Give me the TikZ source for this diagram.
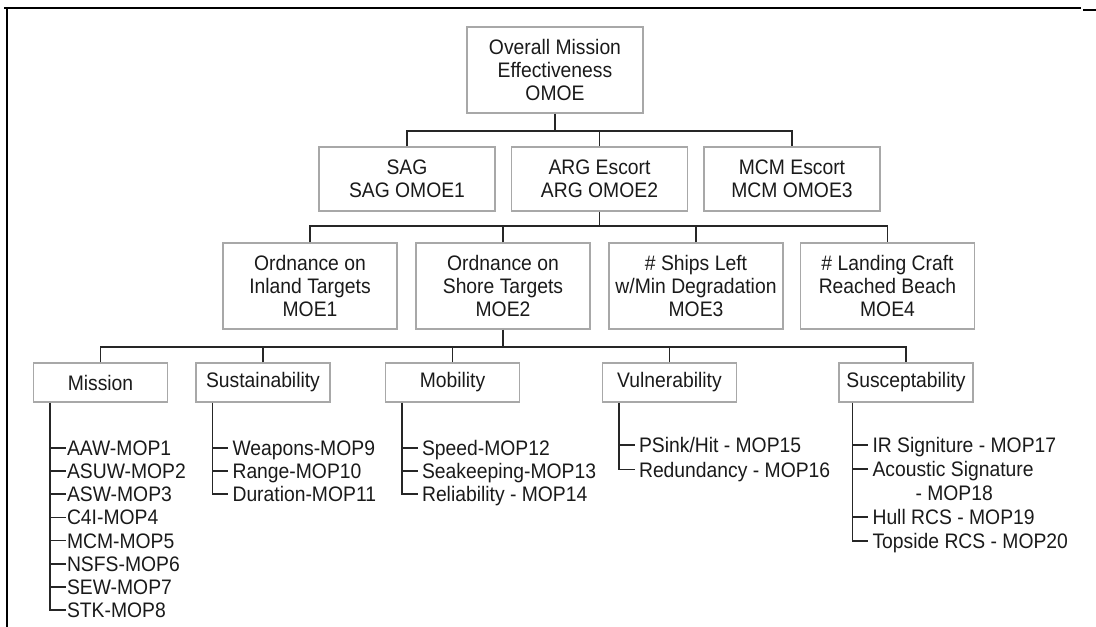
\documentclass[tikz,border=0pt]{standalone}
\usepackage{fontspec}
\setmainfont{Liberation Sans}[FakeStretch=0.92]
\usetikzlibrary{calc}
\definecolor{boxline}{HTML}{A8A8A8}
\definecolor{wire}{HTML}{262626}
\definecolor{ink}{HTML}{1A1A1A}
\begin{document}
\begin{tikzpicture}[x=1pt,y=-1pt,
  every node/.style={font=\fontsize{21pt}{23pt}\selectfont, text=ink},
  box/.style={draw=boxline, line width=1.3pt, align=center, inner sep=0pt},
  topbox/.style={box, minimum width=176pt, minimum height=86pt},
  midbox/.style={box, minimum width=176pt, minimum height=64pt},
  moebox/.style={box, minimum width=174pt, minimum height=86pt},
  catbox/.style={box, minimum width=134pt, minimum height=39pt},
  item/.style={anchor=west, inner xsep=4pt, inner ysep=0pt, text height=15pt, text depth=0pt},
  tightitem/.style={item, inner xsep=1pt},
  wire/.style={draw=wire, line width=1.8pt},
  twig/.style={draw=wire, line width=1.6pt},
  frame/.style={draw=black, line width=2pt}
]
\path[use as bounding box] (0,0) rectangle (1096,627);

% page frame fragments
\draw[frame] (4,8) -- (1081,8);
\draw[frame] (7,8) -- (7,627);
\draw[frame] (1083,10) -- (1096,10);

% top level
\node[topbox] (omoe) at (555,70) {Overall Mission\\Effectiveness\\OMOE};

% OMOE level
\node[midbox] (sag) at (407,179) {SAG\\SAG OMOE1};
\node[midbox] (arg) at (599.5,179) {ARG Escort\\ARG OMOE2};
\node[midbox] (mcm) at (792,179) {MCM Escort\\MCM OMOE3};

% MOE level
\node[moebox] (moe1) at (310,286) {Ordnance on\\Inland Targets\\MOE1};
\node[moebox] (moe2) at (503,286) {Ordnance on\\Shore Targets\\MOE2};
\node[moebox] (moe3) at (696,286) {\# Ships Left\\w/Min Degradation\\MOE3};
\node[moebox] (moe4) at (887.5,286) {\# Landing Craft\\Reached Beach\\MOE4};

% MOP categories
\node[catbox] (mission) at (100.5,382.5) {Mission};
\node[catbox] (sust) at (263,382.5) {Sustainability};
\node[catbox] (mob) at (452.5,382.5) {Mobility};
\node[catbox] (vuln) at (669.5,382.5) {Vulnerability};
\node[catbox] (susc) at (906,382.5) {Susceptability};

% horizontal bus heights
\coordinate (bus1) at (0,131);
\coordinate (bus2) at (0,226);
\coordinate (bus3) at (0,347);

% tree connectors
\draw[wire] (omoe.south) -- (omoe.south |- bus1);
\draw[wire] (sag.north) |- (mcm.north |- bus1) -- (mcm.north);
\draw[wire] (arg.north) -- (arg.north |- bus1);

\draw[wire] (arg.south) -- (arg.south |- bus2);
\draw[wire] (moe1.north) |- (moe4.north |- bus2) -- (moe4.north);
\draw[wire] (moe2.north) -- (moe2.north |- bus2);
\draw[wire] (moe3.north) -- (moe3.north |- bus2);

\draw[wire] (moe2.south) -- (moe2.south |- bus3);
\draw[wire] (mission.north) |- (susc.north |- bus3) -- (susc.north);
\draw[wire] (sust.north) -- (sust.north |- bus3);
\draw[wire] (mob.north) -- (mob.north |- bus3);
\draw[wire] (vuln.north) -- (vuln.north |- bus3);

% list spines
\coordinate (misspine) at ($(mission.south west)+(17,0)$);
\coordinate (susspine) at ($(sust.south west)+(17,0)$);
\coordinate (mobspine) at ($(mob.south west)+(17,0)$);
\coordinate (vulspine) at ($(vuln.south west)+(17,0)$);
\coordinate (sucspine) at ($(susc.south west)+(14,0)$);

% Mission MOPs
\foreach \t [count=\i from 0] in {AAW-MOP1,ASUW-MOP2,ASW-MOP3,C4I-MOP4,MCM-MOP5,NSFS-MOP6,SEW-MOP7,STK-MOP8}
  \node[tightitem] (mis\i) at ($(misspine |- 0,448)+(16,{23.14*\i})$) {\t};
\draw[twig] (misspine) |- (mis7.west);
\foreach \i in {0,...,6} \draw[twig] (mis\i.west -| misspine) -- (mis\i.west);

% Sustainability MOPs
\foreach \t [count=\i from 0] in {Weapons-MOP9,Range-MOP10,Duration-MOP11}
  \node[item] (sus\i) at ($(susspine |- 0,448)+(16,{23.14*\i})$) {\t};
\draw[twig] (susspine) |- (sus2.west);
\foreach \i in {0,1} \draw[twig] (sus\i.west -| susspine) -- (sus\i.west);

% Mobility MOPs
\foreach \t [count=\i from 0] in {Speed-MOP12,Seakeeping-MOP13,Reliability - MOP14}
  \node[item] (mbl\i) at ($(mobspine |- 0,448)+(16,{23.14*\i})$) {\t};
\draw[twig] (mobspine) |- (mbl2.west);
\foreach \i in {0,1} \draw[twig] (mbl\i.west -| mobspine) -- (mbl\i.west);

% Vulnerability MOPs
\node[item] (vul0) at ($(vulspine |- 0,445)+(16,0)$) {PSink/Hit - MOP15};
\node[item] (vul1) at ($(vulspine |- 0,445)+(16,24.5)$) {Redundancy - MOP16};
\draw[twig] (vulspine) |- (vul1.west);
\draw[twig] (vul0.west -| vulspine) -- (vul0.west);

% Susceptability MOPs
\node[item] (suc0) at ($(sucspine |- 0,445)+(16,0)$) {IR Signiture - MOP17};
\node[item] (suc1) at ($(sucspine |- 0,445)+(16,24)$) {Acoustic Signature};
\node[anchor=west, inner sep=0pt, text height=15pt, text depth=0pt] (suc1b) at ($(sucspine |- 0,445)+(63,48)$) {- MOP18};
\node[item] (suc2) at ($(sucspine |- 0,445)+(16,72)$) {Hull RCS - MOP19};
\node[item] (suc3) at ($(sucspine |- 0,445)+(16,96)$) {Topside RCS - MOP20};
\draw[twig] (sucspine) |- (suc3.west);
\foreach \i in {0,1,2} \draw[twig] (suc\i.west -| sucspine) -- (suc\i.west);
\end{tikzpicture}
\end{document}
